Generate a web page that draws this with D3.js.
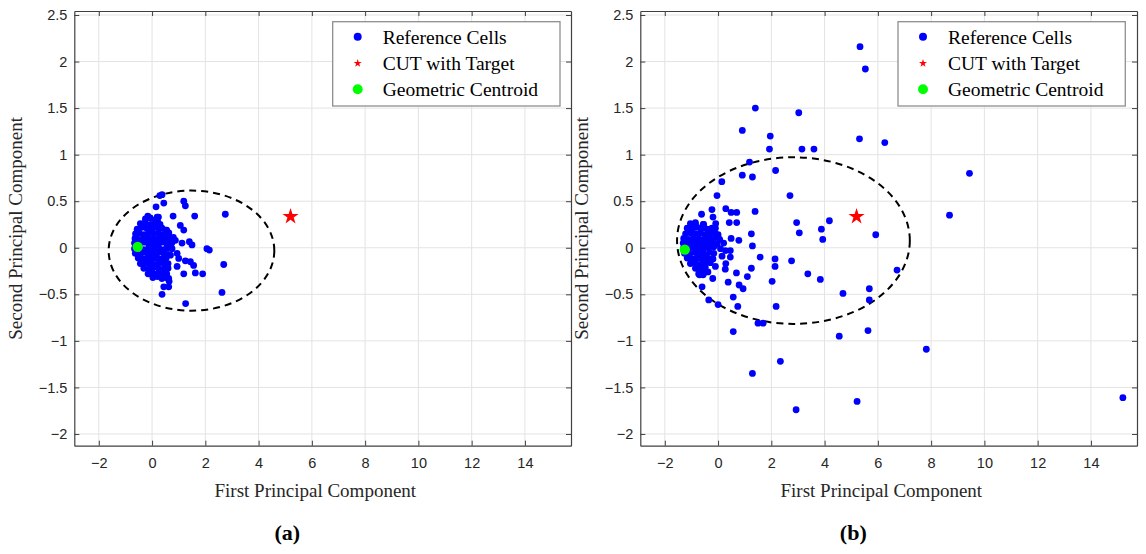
<!DOCTYPE html>
<html>
<head>
<meta charset="utf-8">
<script src="https://cdn.jsdelivr.net/npm/d3@7/dist/d3.min.js"></script>
<style>
  html, body { margin: 0; padding: 0; background: #fff; }
  svg { display: block; }
</style>
</head>
<body>
<svg id="chart" width="1146" height="554"></svg>
<script>
// ---------------- DATA ----------------
const xTicks = [-2, 0, 2, 4, 6, 8, 10, 12, 14];
const yTicks = [-2, -1.5, -1, -0.5, 0, 0.5, 1, 1.5, 2, 2.5];
const xDomain = [-2.92, 15.73];
const yDomain = [-2.126, 2.543];

const legendLabels = ["Reference Cells", "CUT with Target", "Geometric Centroid"];
const xLabel = "First Principal Component";
const yLabel = "Second Principal Component";
const panelLabels = ["(a)", "(b)"];

// Panel (a): reference cells
const refCellsA = [
  // dense core
  [-0.25,0.31],[-0.07,0.32],[0.12,0.30],[0.24,0.33],
  [-0.44,0.26],[-0.26,0.27],[-0.05,0.25],[0.13,0.27],[0.30,0.25],
  [-0.56,0.20],[-0.38,0.22],[-0.20,0.21],[0.01,0.20],[0.18,0.22],[0.37,0.21],[0.55,0.19],
  [-0.62,0.15],[-0.48,0.16],[-0.30,0.14],[-0.13,0.16],[0.05,0.15],[0.24,0.16],[0.43,0.14],[0.63,0.16],
  [-0.64,0.10],[-0.50,0.09],[-0.32,0.11],[-0.12,0.10],[0.07,0.09],[0.26,0.11],[0.45,0.10],[0.62,0.09],[0.80,0.11],
  [-0.66,0.05],[-0.48,0.04],[-0.31,0.06],[-0.15,0.05],[0.00,0.04],[0.19,0.05],[0.37,0.06],[0.56,0.04],[0.74,0.05],
  [-0.66,-0.01],[-0.50,0.00],[-0.31,-0.02],[-0.12,0.00],[0.06,-0.01],[0.25,0.00],[0.44,-0.02],[0.57,0.00],
  [-0.63,-0.06],[-0.44,-0.07],[-0.27,-0.05],[-0.10,-0.06],[0.08,-0.07],[0.25,-0.05],[0.44,-0.06],[0.60,-0.07],
  [-0.52,-0.11],[-0.35,-0.12],[-0.17,-0.11],[0.00,-0.12],[0.19,-0.11],[0.37,-0.12],[0.53,-0.11],
  [-0.44,-0.17],[-0.27,-0.16],[-0.10,-0.17],[0.07,-0.18],[0.25,-0.16],[0.44,-0.17],[0.60,-0.17],
  [-0.31,-0.22],[-0.13,-0.23],[0.06,-0.21],[0.24,-0.22],[0.44,-0.23],[0.60,-0.22],
  [-0.15,-0.28],[0.02,-0.27],[0.20,-0.28],[0.37,-0.27],[0.55,-0.28],
  [0.03,-0.32],[0.20,-0.31],[0.37,-0.33],[0.52,-0.32],
  // scattered
  [0.375,0.57],[0.29,0.56],[0.44,0.48],[0.15,0.44],[1.19,0.50],[1.25,0.45],[0.79,0.34],[1.60,0.34],
  [-0.16,0.34],[0.19,0.33],[0.21,0.28],[1.06,0.24],[1.19,0.19],[0.50,0.19],[0.625,0.14],[0.875,0.08],
  [1.125,0.05],[1.40,0.065],[1.50,0.03],[2.06,-0.01],[2.15,-0.025],[0.75,-0.01],[0.69,-0.08],[0.94,-0.06],
  [1.00,-0.115],[1.25,-0.14],[1.44,-0.15],[1.56,-0.19],[0.94,-0.20],[1.19,-0.28],[1.625,-0.27],[1.90,-0.28],
  [0.625,-0.33],[0.64,-0.36],[0.44,-0.42],[0.625,-0.42],[0.375,-0.50],[2.69,-0.18],[2.625,-0.48],[2.75,0.36],
  [1.26,-0.60]
];
const cutA = [5.2, 0.335];
const centroidA = [-0.54, 0.01];
const ellipseA = { cx: 1.48, cy: -0.031, rx: 3.11, ry: 0.645 };

// Panel (b): reference cells
const refCellsB = [
  // dense core
  [-1.04,0.26],[-0.85,0.27],[-0.54,0.25],
  [-1.16,0.21],[-0.97,0.20],[-0.79,0.22],[-0.60,0.21],[-0.41,0.20],[-0.23,0.21],
  [-1.22,0.15],[-1.04,0.16],[-0.85,0.15],[-0.66,0.16],[-0.48,0.14],[-0.29,0.16],[-0.10,0.15],
  [-1.29,0.10],[-1.10,0.09],[-0.91,0.11],[-0.73,0.10],[-0.54,0.09],[-0.35,0.11],[-0.16,0.10],
  [-1.31,0.05],[-1.14,0.04],[-0.96,0.06],[-0.79,0.05],[-0.60,0.04],[-0.41,0.05],[-0.23,0.06],[-0.04,0.04],[0.21,0.05],
  [-1.29,0.00],[-1.10,-0.01],[-0.91,0.01],[-0.73,0.00],[-0.54,-0.01],[-0.35,0.00],[-0.16,0.01],[0.09,-0.01],
  [-1.26,-0.06],[-1.07,-0.07],[-0.89,-0.05],[-0.70,-0.06],[-0.51,-0.07],[-0.32,-0.05],[-0.16,-0.06],
  [-1.16,-0.11],[-0.97,-0.12],[-0.79,-0.11],[-0.60,-0.12],[-0.41,-0.11],[-0.23,-0.12],
  [-1.04,-0.17],[-0.85,-0.16],[-0.66,-0.18],[-0.48,-0.17],[-0.29,-0.16],
  [-0.85,-0.22],[-0.66,-0.23],[-0.48,-0.21],
  [-0.73,-0.28],[-0.54,-0.27],
  // scattered
  [5.33,2.16],[5.53,1.92],[1.40,1.50],[3.03,1.45],[0.91,1.26],[1.96,1.20],[1.93,1.06],[3.15,1.06],
  [3.60,1.06],[5.31,1.17],[6.26,1.13],[1.18,0.92],[2.16,0.83],[0.91,0.78],[1.29,0.76],[0.14,0.71],
  [-0.04,0.56],[2.70,0.56],[-0.62,0.36],[-0.23,0.41],[0.29,0.42],[0.49,0.38],[0.70,0.38],[1.39,0.39],
  [-0.19,0.33],[0.42,0.27],[0.70,0.27],[2.95,0.27],[4.18,0.29],[3.88,0.20],[-0.98,0.24],[-0.85,0.25],
  [-0.56,0.25],[-0.09,0.26],[3.05,0.16],[3.93,0.09],[5.92,0.14],[1.25,0.15],[1.29,0.02],[1.58,-0.10],
  [2.14,-0.12],[2.14,-0.20],[2.76,-0.14],[1.25,-0.22],[1.10,-0.31],[0.69,-0.27],[0.27,-0.23],[0.29,-0.17],
  [0.38,-0.37],[0.79,-0.40],[0.94,-0.44],[2.03,-0.36],[3.37,-0.28],[3.84,-0.34],[4.69,-0.49],[5.68,-0.44],
  [5.68,-0.56],[6.72,-0.24],[0.57,-0.53],[0.74,-0.63],[2.18,-0.63],[-0.35,-0.56],[0.00,-0.61],[-0.60,-0.42],
  [1.50,-0.81],[1.69,-0.81],[0.57,-0.90],[4.55,-0.95],[5.63,-0.89],[7.82,-1.09],[2.34,-1.22],[1.29,-1.35],
  [5.22,-1.65],[2.93,-1.74],[9.44,0.80],[8.69,0.35],[15.2,-1.61],
  [-0.10,0.21],[0.00,0.14],[0.06,0.09],[0.49,0.10],[0.78,0.08],[0.28,-0.03],[0.46,-0.03],[0.46,-0.10],
  [0.15,-0.09],[-0.19,-0.12],[-0.10,-0.20],[-0.20,-0.33],[-0.38,-0.26],[-0.56,-0.29],[-0.70,-0.29]
];
const cutB = [5.2, 0.335];
const centroidB = [-1.25, -0.02];
const ellipseB = { cx: 2.83, cy: 0.077, rx: 4.37, ry: 0.895 };

// ---------------- DRAW ----------------
const svg = d3.select("#chart");
const W = 496.7, H = 434.7, topY = 11;
const tickFont = "'Liberation Sans', Arial, Helvetica, sans-serif";
const serif = "'Liberation Serif', 'Times New Roman', Times, serif";
const axisCol = "#404040";
const textCol = "#262626";

function drawPanel(left, pts, cut, cen, ell, legendX, label) {
  const x = d3.scaleLinear().domain(xDomain).range([left, left + W]);
  const y = d3.scaleLinear().domain(yDomain).range([topY + H, topY]);
  const g = svg.append("g");

  g.append("rect").attr("x", left).attr("y", topY).attr("width", W).attr("height", H).attr("fill", "#fff");

  // grid
  g.append("g").selectAll("line").data(xTicks).join("line")
    .attr("x1", d => x(d)).attr("x2", d => x(d)).attr("y1", topY).attr("y2", topY + H)
    .attr("stroke", "#e3e3e3").attr("stroke-width", 1);
  g.append("g").selectAll("line").data(yTicks).join("line")
    .attr("y1", d => y(d)).attr("y2", d => y(d)).attr("x1", left).attr("x2", left + W)
    .attr("stroke", "#e3e3e3").attr("stroke-width", 1);

  const fmt = d3.format("~g");
  const ax = (gen, tr) => {
    const a = g.append("g").attr("transform", tr).call(gen);
    a.select(".domain").attr("stroke", axisCol).attr("stroke-width", 1.2);
    a.selectAll(".tick line").attr("stroke", axisCol).attr("stroke-width", 1);
    a.selectAll("text").attr("fill", textCol).style("font-family", tickFont).style("font-size", "14.5px");
    return a;
  };
  ax(d3.axisBottom(x).tickValues(xTicks).tickFormat(fmt).tickSizeInner(-5).tickSizeOuter(0).tickPadding(12),
     `translate(0,${topY + H})`);
  ax(d3.axisTop(x).tickValues(xTicks).tickFormat("").tickSizeInner(-5).tickSizeOuter(0),
     `translate(0,${topY})`);
  ax(d3.axisLeft(y).tickValues(yTicks).tickFormat(fmt).tickSizeInner(-5).tickSizeOuter(0).tickPadding(7),
     `translate(${left},0)`);
  ax(d3.axisRight(y).tickValues(yTicks).tickFormat("").tickSizeInner(-5).tickSizeOuter(0),
     `translate(${left + W},0)`);

  const clipId = "clip" + left;
  svg.append("clipPath").attr("id", clipId).append("rect")
    .attr("x", left).attr("y", topY).attr("width", W).attr("height", H);
  const plot = g.append("g").attr("clip-path", `url(#${clipId})`);

  plot.append("ellipse")
    .attr("cx", x(ell.cx)).attr("cy", y(ell.cy))
    .attr("rx", x(ell.cx + ell.rx) - x(ell.cx))
    .attr("ry", y(ell.cy) - y(ell.cy + ell.ry))
    .attr("fill", "none").attr("stroke", "#000").attr("stroke-width", 2)
    .attr("stroke-dasharray", "7,5");

  plot.append("g").selectAll("circle").data(pts).join("circle")
    .attr("cx", d => x(d[0])).attr("cy", d => y(d[1])).attr("r", 3.4)
    .attr("fill", "#0000ff");

  plot.append("path")
    .attr("d", d3.symbol(d3.symbolStar, 82)())
    .attr("transform", `translate(${x(cut[0])},${y(cut[1])})`)
    .attr("fill", "#ff0000");

  plot.append("circle").attr("cx", x(cen[0])).attr("cy", y(cen[1])).attr("r", 5.2).attr("fill", "#00ff00");

  svg.append("text").attr("x", left + 241).attr("y", 497)
    .attr("text-anchor", "middle").attr("fill", textCol)
    .style("font-family", serif).style("font-size", "19px").text(xLabel);
  svg.append("text").attr("transform", `translate(${left - 52},${topY + H / 2}) rotate(-90)`)
    .attr("text-anchor", "middle").attr("fill", textCol)
    .style("font-family", serif).style("font-size", "19px").text(yLabel);

  const lg = svg.append("g").attr("transform", `translate(${legendX},21.7)`);
  lg.append("rect").attr("width", 227.3).attr("height", 84.3)
    .attr("fill", "#fff").attr("stroke", "#8f8f8f").attr("stroke-width", 1.3);
  const rows = [15, 41.6, 67.6];
  lg.append("circle").attr("cx", 25).attr("cy", rows[0]).attr("r", 4).attr("fill", "#0000ff");
  lg.append("path").attr("d", d3.symbol(d3.symbolStar, 20)())
    .attr("transform", `translate(25,${rows[1]})`).attr("fill", "#ff0000");
  lg.append("circle").attr("cx", 25).attr("cy", rows[2]).attr("r", 5).attr("fill", "#00ff00");
  lg.selectAll("text.lab").data(legendLabels).join("text").attr("class", "lab")
    .attr("x", 50).attr("y", (d, i) => rows[i]).attr("dy", "0.35em")
    .attr("fill", "#000").style("font-family", serif).style("font-size", "19.5px").text(d => d);

  svg.append("text").attr("x", left + 213).attr("y", 540)
    .attr("text-anchor", "middle").attr("fill", "#000")
    .style("font-family", serif).style("font-size", "22px").style("font-weight", "bold")
    .text(label);
}

drawPanel(74.3, refCellsA, cutA, centroidA, ellipseA, 332.7, panelLabels[0]);
drawPanel(640.3, refCellsB, cutB, centroidB, ellipseB, 898, panelLabels[1]);
</script>
</body>
</html>
